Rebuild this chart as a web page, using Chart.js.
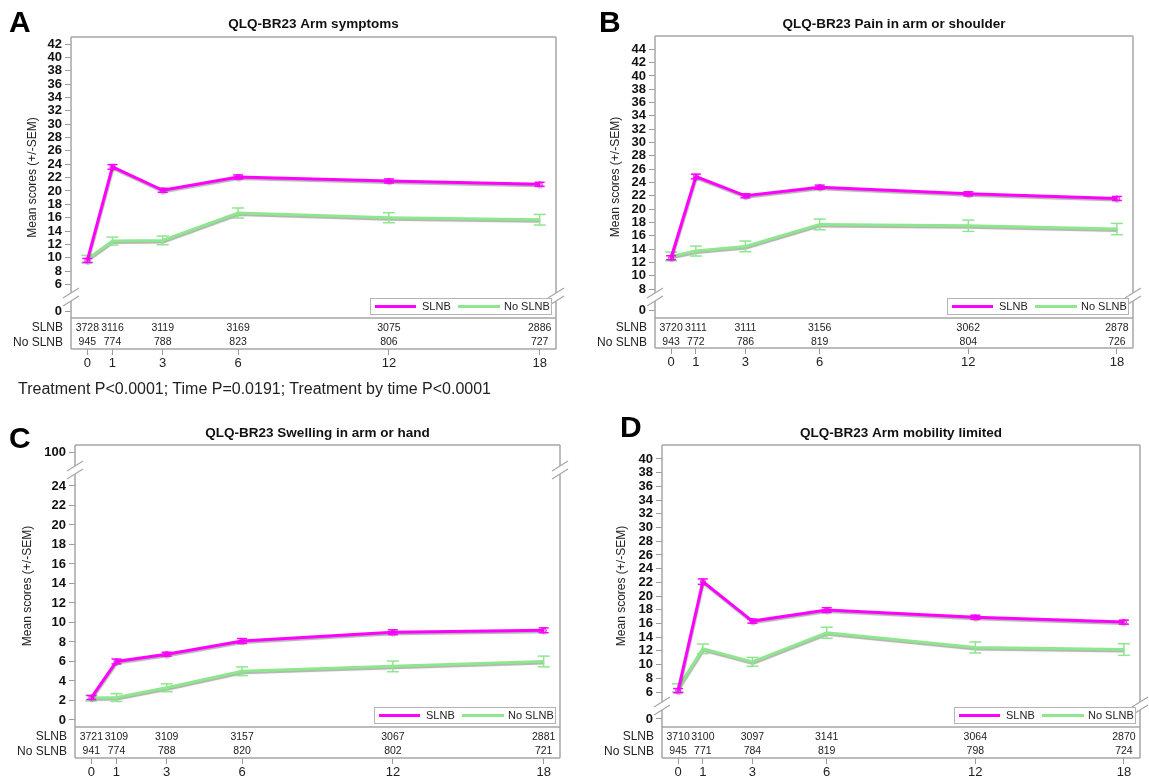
<!DOCTYPE html>
<html>
<head>
<meta charset="utf-8">
<script src="https://cdn.jsdelivr.net/npm/chart.js@4.4.1/dist/chart.umd.min.js"></script>
<style>
    body { margin: 0; background: #fff; width: 1149px; height: 778px; position: relative; overflow: hidden; font-family: "Liberation Sans", Arial, sans-serif; }
    canvas { position: absolute; }
    #pnote { position: absolute; left: 18px; top: 379px; font-size: 16px; line-height: 20px; color: #222; white-space: nowrap; z-index: 2; }
</style>
</head>
<body>
<canvas id="cA" width="575" height="389" style="left:0;top:0"></canvas>
<canvas id="cB" width="574" height="389" style="left:575px;top:0"></canvas>
<canvas id="cC" width="575" height="389" style="left:0;top:389px"></canvas>
<canvas id="cD" width="574" height="389" style="left:575px;top:389px"></canvas>
<div id="pnote">Treatment P&lt;0.0001; Time P=0.0191; Treatment by time P&lt;0.0001</div>
<script>
    const months = [0, 1, 3, 6, 12, 18];
    const groupNames = ['SLNB', 'No SLNB'];

    // A - arm symptoms
    const armSlnb = [9.6, 23.6, 20.1, 22.1, 21.5, 21.0];
    const armSlnbSem = [0.3, 0.35, 0.3, 0.3, 0.3, 0.3];
    const armNoSlnb = [9.8, 12.5, 12.6, 16.7, 16.0, 15.7];
    const armNoSlnbSem = [0.55, 0.6, 0.65, 0.75, 0.75, 0.8];
    const armNSlnb = [3728, 3116, 3119, 3169, 3075, 2886];
    const armNNoSlnb = [945, 774, 788, 823, 806, 727];
    const armTicks = [6, 8, 10, 12, 14, 16, 18, 20, 22, 24, 26, 28, 30, 32, 34, 36, 38, 40, 42];

    // B - pain in arm or shoulder
    const painSlnb = [12.7, 24.9, 22.0, 23.3, 22.3, 21.6];
    const painSlnbSem = [0.3, 0.35, 0.3, 0.3, 0.3, 0.3];
    const painNoSlnb = [12.9, 13.7, 14.4, 17.7, 17.5, 17.0];
    const painNoSlnbSem = [0.65, 0.75, 0.8, 0.8, 0.85, 0.85];
    const painNSlnb = [3720, 3111, 3111, 3156, 3062, 2878];
    const painNNoSlnb = [943, 772, 786, 819, 804, 726];
    const painTicks = [8, 10, 12, 14, 16, 18, 20, 22, 24, 26, 28, 30, 32, 34, 36, 38, 40, 42, 44];

    // C - swelling in arm or hand
    const swellSlnb = [2.3, 6.0, 6.75, 8.1, 9.0, 9.2];
    const swellSlnbSem = [0.2, 0.25, 0.2, 0.25, 0.25, 0.25];
    const swellNoSlnb = [2.25, 2.3, 3.3, 5.0, 5.5, 6.0];
    const swellNoSlnbSem = [0.3, 0.4, 0.4, 0.45, 0.55, 0.55];
    const swellNSlnb = [3721, 3109, 3109, 3157, 3067, 2881];
    const swellNNoSlnb = [941, 774, 788, 820, 802, 721];
    const swellTicks = [0, 2, 4, 6, 8, 10, 12, 14, 16, 18, 20, 22, 24];

    // D - arm mobility limited
    const mobSlnb = [6.2, 22.1, 16.35, 17.95, 16.9, 16.2];
    const mobSlnbSem = [0.3, 0.4, 0.3, 0.35, 0.3, 0.3];
    const mobNoSlnb = [6.6, 12.3, 10.4, 14.65, 12.5, 12.2];
    const mobNoSlnbSem = [0.6, 0.7, 0.65, 0.8, 0.8, 0.85];
    const mobNSlnb = [3710, 3100, 3097, 3141, 3064, 2870];
    const mobNNoSlnb = [945, 771, 784, 819, 798, 724];
    const mobTicks = [6, 8, 10, 12, 14, 16, 18, 20, 22, 24, 26, 28, 30, 32, 34, 36, 38, 40];

    const SLNB_COLOR = '#ff00ff';
    const NO_COLOR = '#8ee68e';
    const FRAME = '#a6a6a6';
    const FONT = '"Liberation Sans", Arial, sans-serif';

    Chart.defaults.font.family = FONT;

    const panels = [
        {
            canvas: 'cA', letter: 'A', letterAt: [9, 32], title: 'QLQ-BR23 Arm symptoms', titleY: 28, yTitleX: 33,
            slnb: armSlnb, slnbSem: armSlnbSem, no: armNoSlnb, noSem: armNoSlnbSem, nSlnb: armNSlnb, nNo: armNNoSlnb,
            segs: [{ min: 4.13, max: 43.05, ticks: armTicks, h: 260 }, { min: -1.05, max: 2.1, ticks: [0], h: 21 }],
            dataSeg: 0, tableH: 31, pad: { left: 21, top: 37, right: 19, bottom: 20 }
        },
        {
            canvas: 'cB', letter: 'B', letterAt: [24, 32], title: 'QLQ-BR23 Pain in arm or shoulder', titleY: 28, yTitleX: 41,
            slnb: painSlnb, slnbSem: painSlnbSem, no: painNoSlnb, noSem: painNoSlnbSem, nSlnb: painNSlnb, nNo: painNNoSlnb,
            segs: [{ min: 6.8, max: 46.0, ticks: painTicks, h: 261 }, { min: -1.2, max: 1.95, ticks: [0], h: 21 }],
            dataSeg: 0, tableH: 30, pad: { left: 30, top: 36, right: 16, bottom: 21 }
        },
        {
            canvas: 'cC', letter: 'C', letterAt: [9, 59], title: 'QLQ-BR23 Swelling in arm or hand', titleY: 48, yTitleX: 28,
            slnb: swellSlnb, slnbSem: swellSlnbSem, no: swellNoSlnb, noSem: swellNoSlnbSem, nSlnb: swellNSlnb, nNo: swellNNoSlnb,
            segs: [{ min: 98.15, max: 100.72, ticks: [100], h: 25 }, { min: -0.72, max: 25.64, ticks: swellTicks, h: 257 }],
            dataSeg: 1, tableH: 31, pad: { left: 25, top: 56, right: 15, bottom: 0 }
        },
        {
            canvas: 'cD', letter: 'D', letterAt: [45, 48], title: 'QLQ-BR23 Arm mobility limited', titleY: 48, yTitleX: 47,
            slnb: mobSlnb, slnbSem: mobSlnbSem, no: mobNoSlnb, noSem: mobNoSlnbSem, nSlnb: mobNSlnb, nNo: mobNNoSlnb,
            segs: [{ min: 3.96, max: 42.04, ticks: mobTicks, h: 261 }, { min: -1.17, max: 1.9, ticks: [0], h: 21 }],
            dataSeg: 0, tableH: 31, pad: { left: 37, top: 56, right: 9, bottom: 0 }
        }
    ];

    function line(ctx, x1, y1, x2, y2) {
        ctx.beginPath();
        ctx.moveTo(x1, y1);
        ctx.lineTo(x2, y2);
        ctx.stroke();
    }

    const panelDeco = {
        id: 'panelDeco',
        beforeDatasetDraw(chart) {
            const ctx = chart.ctx;
            ctx.save();
            ctx.shadowColor = 'rgba(80,80,80,0.45)';
            ctx.shadowOffsetX = 0.5;
            ctx.shadowOffsetY = 1.5;
            ctx.shadowBlur = 1;
        },
        afterDatasetDraw(chart, args) {
            const ctx = chart.ctx;
            ctx.restore();
            const p = chart.options.plugins.panelDeco.panel;
            const ds = chart.data.datasets[args.index];
            const xs = chart.scales.x;
            const ys = chart.scales['y' + p.dataSeg];
            const vals = args.index === 0 ? p.slnb : p.no;
            const sems = args.index === 0 ? p.slnbSem : p.noSem;
            const cap = args.index === 0 ? 5 : 6;
            ctx.save();
            ctx.strokeStyle = ds.borderColor;
            ctx.lineWidth = 1.5;
            months.forEach((m, i) => {
                const x = xs.getPixelForValue(m);
                const yLo = ys.getPixelForValue(vals[i] - sems[i]);
                const yHi = ys.getPixelForValue(vals[i] + sems[i]);
                line(ctx, x, yLo, x, yHi);
                line(ctx, x - cap, yLo, x + cap, yLo);
                line(ctx, x - cap, yHi, x + cap, yHi);
            });
            ctx.restore();
        },
        afterDraw(chart) {
            const ctx = chart.ctx;
            const p = chart.options.plugins.panelDeco.panel;
            const area = chart.chartArea;
            const xs = chart.scales.x;
            const yt = chart.scales.yt;
            const yb = chart.scales.y0.bottom;
            const gTop = yb - 4, gBot = yb + 4;

            ctx.save();
            // frame with axis break
            ctx.strokeStyle = FRAME;
            ctx.lineWidth = 1.5;
            line(ctx, area.left, area.top, area.right, area.top);
            line(ctx, area.left, area.bottom, area.right, area.bottom);
            line(ctx, area.left, yt.top, area.right, yt.top);
            [area.left, area.right].forEach(x => {
                line(ctx, x, area.top, x, gTop);
                line(ctx, x, gBot, x, area.bottom);
                ctx.lineWidth = 1.2;
                line(ctx, x - 8, gTop + 5, x + 8, gTop - 5);
                line(ctx, x - 8, gBot + 5, x + 8, gBot - 5);
                ctx.lineWidth = 1.5;
            });

            // numbers at risk
            ctx.fillStyle = '#222';
            ctx.textBaseline = 'middle';
            const rowY = [yt.getPixelForValue(p.tableH - 10), yt.getPixelForValue(p.tableH - 24.5)];
            ctx.font = '12px ' + FONT;
            ctx.textAlign = 'right';
            groupNames.forEach((g, r) => ctx.fillText(g, area.left - 8, rowY[r]));
            ctx.font = '10.5px ' + FONT;
            ctx.textAlign = 'center';
            months.forEach((m, i) => {
                const x = xs.getPixelForValue(m);
                ctx.fillText(String(p.nSlnb[i]), x, rowY[0]);
                ctx.fillText(String(p.nNo[i]), x, rowY[1]);
            });

            // legend
            const lw = 181, lh = 16;
            const lx = area.right - 5 - lw, ly = yt.top - 4 - lh;
            ctx.fillStyle = '#fff';
            ctx.fillRect(lx, ly, lw, lh);
            ctx.strokeStyle = '#b4b4b4';
            ctx.lineWidth = 1;
            ctx.strokeRect(lx + 0.5, ly + 0.5, lw, lh);
            const my = ly + lh / 2 + 0.5;
            ctx.lineWidth = 3;
            ctx.strokeStyle = SLNB_COLOR;
            line(ctx, lx + 5, my, lx + 46, my);
            ctx.strokeStyle = NO_COLOR;
            line(ctx, lx + 88, my, lx + 130, my);
            ctx.fillStyle = '#222';
            ctx.font = '11px ' + FONT;
            ctx.textAlign = 'left';
            ctx.fillText(groupNames[0], lx + 52, my);
            ctx.fillText(groupNames[1], lx + 134, my);

            // titles
            ctx.fillStyle = '#000';
            ctx.font = 'bold 30px ' + FONT;
            ctx.textBaseline = 'alphabetic';
            ctx.fillText(p.letter, p.letterAt[0], p.letterAt[1]);
            ctx.fillStyle = '#111';
            ctx.font = 'bold 13.5px ' + FONT;
            ctx.textAlign = 'center';
            ctx.fillText(p.title, (area.left + area.right) / 2, p.titleY);
            ctx.font = '12px ' + FONT;
            ctx.translate(p.yTitleX, (area.top + yt.top) / 2);
            ctx.rotate(-Math.PI / 2);
            ctx.textBaseline = 'middle';
            ctx.fillStyle = '#222';
            ctx.fillText('Mean scores (+/-SEM)', 0, 0);
            ctx.restore();
        }
    };

    function buildPanel(p) {
        const scales = {
            x: {
                type: 'linear', position: 'bottom', min: -0.65, max: 18.65,
                afterBuildTicks: s => { s.ticks = months.map(v => ({ value: v })); },
                afterFit: s => { s.height = 20; },
                ticks: { autoSkip: false, maxRotation: 0, padding: 1, color: '#222', font: { size: 13 } },
                grid: { drawOnChartArea: false, drawTicks: true, tickLength: 6, color: '#9a9a9a' },
                border: { display: false }
            }
        };
        p.segs.forEach((s, i) => {
            scales['y' + i] = {
                type: 'linear', position: 'left', stack: 'left', stackWeight: s.h, weight: 10 - i,
                min: s.min, max: s.max,
                afterBuildTicks: sc => { sc.ticks = s.ticks.map(v => ({ value: v })); },
                afterFit: sc => { sc.width = 50; },
                ticks: { autoSkip: false, padding: 3, color: '#111', font: { size: 13, weight: 'bold' } },
                grid: { drawOnChartArea: false, drawTicks: true, tickLength: 6, color: '#9a9a9a' },
                border: { display: false }
            };
        });
        scales.yt = {
            type: 'linear', position: 'left', stack: 'left', stackWeight: p.tableH, weight: 1,
            min: 0, max: p.tableH,
            afterFit: sc => { sc.width = 50; },
            ticks: { display: false }, grid: { display: false }, border: { display: false }
        };

        const yId = 'y' + p.dataSeg;
        new Chart(document.getElementById(p.canvas), {
            type: 'line',
            data: {
                datasets: [
                    {
                        label: groupNames[0], yAxisID: yId, xAxisID: 'x',
                        data: months.map((m, i) => ({ x: m, y: p.slnb[i] })),
                        borderColor: SLNB_COLOR, borderWidth: 3, tension: 0,
                        pointRadius: 2.5, pointBorderWidth: 1, pointBorderColor: SLNB_COLOR, pointBackgroundColor: 'rgba(0,0,0,0)'
                    },
                    {
                        label: groupNames[1], yAxisID: yId, xAxisID: 'x',
                        data: months.map((m, i) => ({ x: m, y: p.no[i] })),
                        borderColor: NO_COLOR, borderWidth: 3, tension: 0, pointRadius: 0
                    }
                ]
            },
            options: {
                responsive: false,
                animation: false,
                devicePixelRatio: 1,
                layout: { padding: p.pad },
                scales: scales,
                plugins: {
                    legend: { display: false },
                    tooltip: { enabled: false },
                    title: { display: false },
                    panelDeco: { panel: p }
                }
            },
            plugins: [panelDeco]
        });
    }

    panels.forEach(buildPanel);
</script>
</body>
</html>
